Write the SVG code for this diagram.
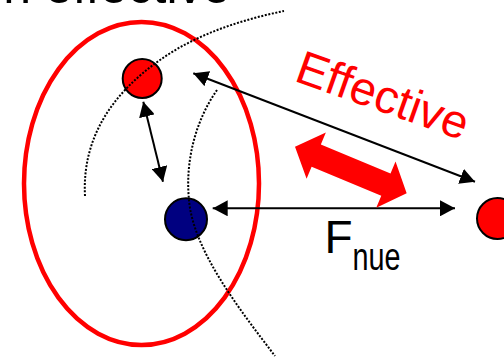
<svg xmlns="http://www.w3.org/2000/svg" width="504" height="357" viewBox="0 0 504 357">
  <style>
    .lbl { font-family: "Liberation Sans", Arial, sans-serif; }
    .dot { fill: none; stroke: #000; stroke-width: 2; stroke-dasharray: 2 1.6; }
    .arr { fill: none; stroke: #000; stroke-width: 2; marker-start: url(#ah); marker-end: url(#ah); }
    .node { stroke: #000; stroke-width: 2; }
  </style>
  <defs>
    <marker id="ah" viewBox="0 0 15 16" refX="15" refY="8" markerWidth="15" markerHeight="16" markerUnits="userSpaceOnUse" orient="auto-start-reverse">
      <path d="M0,0 L15,8 L0,16 Z" fill="#000"/>
    </marker>
  </defs>
  <rect width="504" height="357" fill="#fff"/>

  <g id="title">
    <text class="lbl" x="-24.5" y="2.8" font-size="50" fill="#000">on effective</text>
  </g>

  <g id="shell">
    <ellipse cx="141.5" cy="183.5" rx="117.5" ry="161.5" fill="none" stroke="#ff0000" stroke-width="4.5"/>
  </g>

  <g id="node-red-top">
    <circle class="node" cx="142.2" cy="78.5" r="19.5" fill="#ff0000"/>
  </g>
  <g id="node-blue">
    <circle class="node" cx="186" cy="219.2" r="21" fill="#000080"/>
  </g>
  <g id="node-red-right">
    <circle class="node" cx="497.5" cy="218.5" r="20.5" fill="#ff0000"/>
  </g>

  <g id="orbits">
    <path class="dot" d="M85,196 C82,140 110,95 160,60 C195,35 240,20 284,11"/>
    <path class="dot" d="M217,90 C196,120 185,160 189,200 C193,250 240,310 275,356"/>
  </g>

  <g id="connectors">
    <line class="arr" x1="143.3" y1="101.7" x2="163" y2="181.7"/>
    <line class="arr" x1="193.3" y1="73.3" x2="475" y2="181.7"/>
    <line class="arr" x1="212.7" y1="208.3" x2="455" y2="208.3"/>
    <polygon fill="#ff0000" transform="translate(295,146.7) rotate(22.65)" points="0,0 23,-25 23,-12 98.5,-12 98.5,-25 121,0 98.5,25 98.5,12 23,12 23,25"/>
  </g>

  <g id="label-effective">
    <text class="lbl" font-size="47" fill="#ff0000" transform="translate(293,80.5) rotate(19.5)">Effective</text>
  </g>
  <g id="label-fnue">
    <text class="lbl" x="324.6" y="253.3" font-size="46" fill="#000">F</text>
    <text class="lbl" x="352.5" y="270" font-size="38" fill="#000" textLength="48" lengthAdjust="spacingAndGlyphs">nue</text>
  </g>
</svg>
